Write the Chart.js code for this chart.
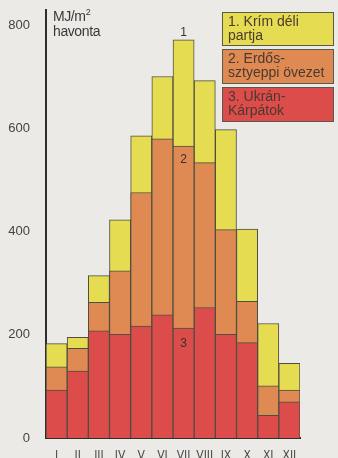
<!DOCTYPE html>
<html>
<head>
<meta charset="utf-8">
<script src="https://cdn.jsdelivr.net/npm/chart.js@4"></script>
<style>
  body { margin: 0; background: #ebeae6; }
  #wrap { position: relative; width: 338px; height: 458px; }
  canvas { position: absolute; left: 0; top: 0; }
  .unit { position: absolute; left: 53px; top: 9px; font: 14px "Liberation Sans", Arial, sans-serif; color: #3a3a3a; line-height: 15px; letter-spacing: -0.4px; }
  .lg { position: absolute; left: 222px; width: 112px; box-sizing: border-box; border: 1px solid #5a5a4a;
        font: 14px "Liberation Sans", Arial, sans-serif; color: #4a3a30; line-height: 13.5px; padding: 2px 0 0 5px; white-space: nowrap; }
</style>
</head>
<body>
<div id="wrap">
  <canvas id="c" width="338" height="458"></canvas>
  <div class="unit">MJ/m<sup style="font-size:9px;vertical-align:6px;line-height:0">2</sup><br>havonta</div>
  <div class="lg" style="top:12px;height:34px;background:#e6dc52">1. Krím déli<br>partja</div>
  <div class="lg" style="top:49px;height:35px;background:#de8a52">2. Erdős-<br>sztyeppi övezet</div>
  <div class="lg" style="top:87px;height:35px;background:#dc4c4a">3. Ukrán-<br>Kárpátok</div>
</div>
<script>
const months = ['I', 'II', 'III', 'IV', 'V', 'VI', 'VII', 'VIII', 'IX', 'X', 'XI', 'XII'];
// 1. Krím déli partja
const krim = [183, 195, 315, 423, 586, 701, 772, 693, 598, 405, 222, 145];
// 2. Erdős-sztyeppi övezet
const erdos = [138, 174, 263, 324, 476, 580, 566, 534, 404, 265, 101, 93];
// 3. Ukrán-Kárpátok
const ukran = [93, 130, 208, 201, 217, 239, 213, 253, 201, 185, 44, 70];
const yTicks = [0, 200, 400, 600, 800];

const edge = '#4e4e42';

// numbers 1, 2, 3 written on the July column
const seriesNumbers = {
  id: 'seriesNumbers',
  afterDatasetsDraw(chart) {
    const ctx = chart.ctx;
    const x = chart.scales.x.getPixelForValue(6);
    const y = chart.scales.y;
    ctx.save();
    ctx.font = '12px "Liberation Sans", Arial, sans-serif';
    ctx.fillStyle = '#3a3030';
    ctx.textAlign = 'center';
    ctx.textBaseline = 'middle';
    ctx.fillText('1', x, y.getPixelForValue(krim[6]) - 7);
    ctx.fillText('2', x, y.getPixelForValue(erdos[6]) + 14);
    ctx.fillText('3', x, y.getPixelForValue(ukran[6]) + 16);
    ctx.restore();
  }
};

new Chart(document.getElementById('c'), {
  type: 'bar',
  data: {
    labels: months,
    datasets: [
      { label: '3. Ukrán-Kárpátok', data: ukran, backgroundColor: '#dc4c4a' },
      { label: '2. Erdős-sztyeppi övezet', data: erdos, backgroundColor: '#de8a52' },
      { label: '1. Krím déli partja', data: krim, backgroundColor: '#e6dc52' }
    ].map(d => Object.assign(d, {
      grouped: false, borderColor: edge, borderWidth: 1,
      categoryPercentage: 1, barPercentage: 1
    }))
  },
  options: {
    responsive: false,
    animation: false,
    layout: { padding: { top: 10, right: 38, left: 0, bottom: 0 } },
    plugins: { legend: { display: false }, tooltip: { enabled: false } },
    scales: {
      x: {
        grid: { display: false },
        border: { display: true, color: '#2e2e2e', width: 2 },
        ticks: { color: '#4a4a4a', padding: 3, maxRotation: 0, autoSkip: false,
                 font: { family: '"DejaVu Sans Condensed", "Liberation Sans Narrow", sans-serif', size: 12 } },
        afterFit(s) { s.height = 20; }
      },
      y: {
        min: 0, max: 830,
        grid: { display: false },
        border: { display: true, color: '#2e2e2e', width: 2 },
        ticks: { stepSize: 200, color: '#444', padding: 8, font: { family: '"Liberation Sans", Arial, sans-serif', size: 13 } },
        afterBuildTicks(s) { s.ticks = yTicks.map(v => ({ value: v })); },
        afterFit(s) { s.width = 46; s.paddingTop = 0; s.paddingBottom = 0; }
      }
    }
  },
  plugins: [seriesNumbers]
});
</script>
</body>
</html>
